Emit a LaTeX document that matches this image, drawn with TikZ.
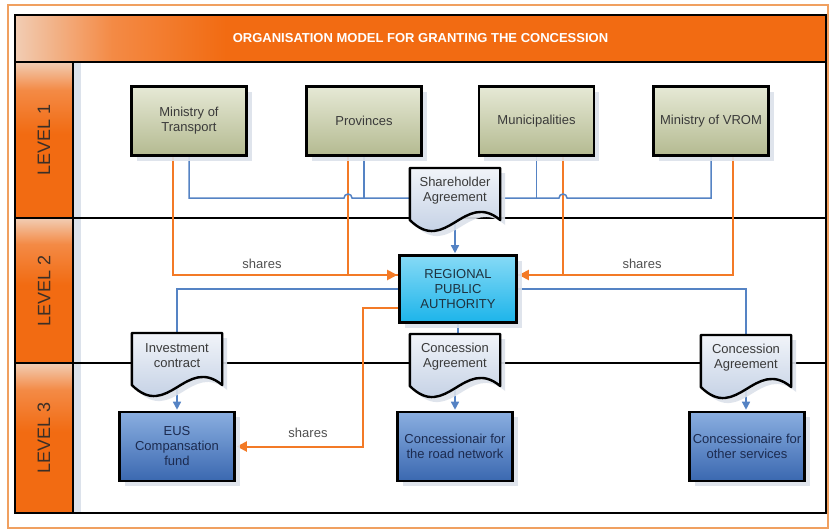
\documentclass[tikz,border=0pt]{standalone}
\usepackage{fontspec}
\setmainfont{Liberation Sans}
\usetikzlibrary{calc,arrows.meta,shadows}

\definecolor{frameorange}{HTML}{F0A060}
\definecolor{barorange}{HTML}{F26B12}
\definecolor{barmid}{HTML}{F38A45}
\definecolor{barlight}{HTML}{F2CDB4}
\definecolor{olivelight}{HTML}{E6E9D5}
\definecolor{olivedark}{HTML}{B4BA91}
\definecolor{cyanlight}{HTML}{86DAF6}
\definecolor{cyanmain}{HTML}{1CB4EA}
\definecolor{bluelight}{HTML}{8AAEE0}
\definecolor{bluedark}{HTML}{3A68B0}
\definecolor{doclight}{HTML}{F1F4F9}
\definecolor{docdark}{HTML}{B5C5DE}
\definecolor{linkblue}{HTML}{5583C4}
\definecolor{linkorange}{HTML}{F37A26}
\definecolor{textgray}{HTML}{3A3A3A}
\definecolor{textdark}{HTML}{1E3340}
\definecolor{textnavy}{HTML}{1C2B50}
\definecolor{labelgray}{HTML}{505050}
\definecolor{leveltext}{HTML}{3B2F27}
\definecolor{shadowgray}{HTML}{DCE2EB}

% orange bars: pale edge that quickly turns into full orange
% (the path spans 25bp..75bp of an axis shading)
\pgfdeclarehorizontalshading{titlefade}{100bp}{color(0bp)=(barlight); color(25bp)=(barlight);
  color(31bp)=(barmid); color(38bp)=(barorange); color(100bp)=(barorange)}
\pgfdeclareverticalshading{lanefade}{100bp}{color(0bp)=(barorange); color(52bp)=(barorange);
  color(66bp)=(barmid); color(75bp)=(barlight); color(100bp)=(barlight)}

\pgfdeclarelayer{lanes}
\pgfdeclarelayer{links}
\pgfdeclarelayer{docs}
\pgfsetlayers{lanes,links,docs,main}

\tikzset{
  txt/.style={font=\fontsize{13}{15}\selectfont, align=center},
  shadowed/.style={drop shadow={shadow xshift=5pt,shadow yshift=-5pt,fill=shadowgray,opacity=0.9}},
  box/.style={txt, shadowed, draw=black, line width=2.6pt, minimum width=115pt,
    minimum height=69pt, inner sep=2pt},
  govbox/.style={box, top color=olivelight, bottom color=olivedark, text=textgray},
  authbox/.style={box, top color=cyanlight, bottom color=cyanmain, text=textdark,
    minimum width=117pt, minimum height=67pt},
  opbox/.style={box, top color=bluelight, bottom color=bluedark, text=textnavy},
  doctext/.style={txt, text=textgray, minimum width=90pt, minimum height=44pt,
    inner sep=0pt, anchor=north},
  docshape/.style={draw=black, line width=2.4pt, line join=round,
    top color=doclight, bottom color=docdark, shadowed},
  bline/.style={draw=linkblue, line width=1.5pt},
  oline/.style={draw=linkorange, line width=2pt},
  btip/.style={-{Triangle[length=8pt,width=8pt]}, shorten >=1pt},
  otip/.style={-{Triangle[length=10pt,width=10pt]}, shorten >=1pt},
  lanehead/.style={rotate=90, draw=black, line width=2.6pt, minimum height=58pt,
    shade, shading=lanefade, shading angle=0,
    text=leveltext, font=\fontsize{18}{20}\selectfont},
  titlebar/.style={draw=black, line width=2.6pt, minimum width=811pt, minimum height=47pt,
    shade, shading=titlefade,
    text=white, font=\bfseries\fontsize{13}{15}\selectfont},
  share/.style={font=\fontsize{13}{15}\selectfont, text=labelgray},
}

% document symbol: flat top, wavy bottom, drawn under the text node #1
\newcommand\docframe[1]{%
  \begin{pgfonlayer}{docs}
    \path[docshape] let \p1=(#1.north west), \p2=(#1.north east), \n1={\x2-\x1} in
      (\p1) -- (\p2) -- (\x2,\y1-52pt)
      .. controls (\x1+0.6*\n1,\y1-22pt) and (\x1+0.4*\n1,\y1-88pt) .. (\x1,\y1-52pt)
      -- cycle;
  \end{pgfonlayer}}

\begin{document}
\begin{tikzpicture}[x=1pt,y=1pt]
\useasboundingbox (0,0) rectangle (829,-530);

% page, outer frame and lane separators
\begin{pgfonlayer}{lanes}
  \fill[white] (0,0) rectangle (829,-530);
  \draw[frameorange, line width=1.3pt] (8,-5) rectangle (828,-528);
  \fill[shadowgray] (73,-62) rectangle (81,-513);
  \draw[line width=2.6pt] (15,-218) -- (826,-218);
  \draw[line width=2.6pt] (15,-363) -- (826,-363);
\end{pgfonlayer}

% heading and lane headers
\node[titlebar] (title) at (420.5,-38.5) {ORGANISATION MODEL FOR GRANTING THE CONCESSION};
\node[lanehead, minimum width=156pt] (lv1) at (44,-140) {LEVEL 1};
\node[lanehead, minimum width=145pt] (lv2) at (44,-290.5) {LEVEL 2};
\node[lanehead, minimum width=150pt] (lv3) at (44,-438) {LEVEL 3};

% level 1: shareholders
\node[govbox] (mot)  at (189,-121)   {Ministry of\\Transport};
\node[govbox] (prov) at (364,-121)   {Provinces};
\node[govbox] (mun)  at (536.5,-121) {Municipalities};
\node[govbox] (vrom) at (711,-121)   {Ministry of VROM};
\node[doctext] (sh) at (455,-168) {Shareholder\\Agreement};
\docframe{sh}

% level 2: authority
\node[authbox] (rpa) at (458,-289) {REGIONAL\\PUBLIC\\AUTHORITY};

% level 3: contracts and operators
\node[doctext] (inv) at (177,-333) {Investment\\contract};
\docframe{inv}
\node[doctext] (ca1) at (455,-334) {Concession\\Agreement};
\docframe{ca1}
\node[doctext] (ca2) at (746,-335) {Concession\\Agreement};
\docframe{ca2}
\node[opbox] (eus)  at (177,-446.5) {EUS\\Compansation\\fund};
\node[opbox] (road) at (455,-446.5) {Concessionair for\\the road network};
\node[opbox] (oth)  at (747,-446.5) {Concessionaire for\\other services};

% labels on the share flows
\node[share] (shL) at (262,-264) {shares};
\node[share] (shR) at (642,-264) {shares};
\node[share] (shE) at (308,-433) {shares};

\coordinate (hopA) at (344,-198);
\coordinate (hopB) at (567,-198);
\coordinate (bendE) at (363,-446.5);

\begin{pgfonlayer}{links}
  % shares flowing to the authority
  \draw[oline, otip] ([xshift=-16pt]mot.south) |- ([yshift=14pt]rpa.west);
  \draw[oline] ([xshift=-16pt]prov.south) |- ([yshift=14pt]rpa.west);
  \draw[oline, otip] ([xshift=22pt]vrom.south) |- ([yshift=14pt]rpa.east);
  \draw[oline] ([xshift=26pt]mun.south) |- ([yshift=14pt]rpa.east);
  \draw[oline, otip] ([yshift=-19pt]rpa.west) -| (bendE) -- (eus.east);

  % shareholder agreement
  \draw[bline] (mot.south) |- (hopA) arc[start angle=180, end angle=0, radius=4pt]
    -- (sh.west |- hopA);
  \draw[bline] (prov.south) -- (prov.south |- hopA);
  \draw[bline] (vrom.south) |- (hopB) arc[start angle=0, end angle=180, radius=4pt]
    -- (sh.east |- hopB);
  \draw[bline] (mun.south) -- (mun.south |- hopB);
  \draw[bline, btip] (sh.south) -- (sh.south |- rpa.north);

  % contracts issued by the authority
  \draw[bline] (rpa.west) -| (inv.north);
  \draw[bline] (rpa.south) -- (rpa.south |- ca1.north);
  \draw[bline] (rpa.east) -| (ca2.north);
  \draw[bline, btip] (inv.south) -- (inv.south |- eus.north);
  \draw[bline, btip] (ca1.south) -- (ca1.south |- road.north);
  \draw[bline, btip] (ca2.south) -- (ca2.south |- oth.north);
\end{pgfonlayer}

% black frame on top
\draw[line width=2.6pt] (15,-15) rectangle (826,-513);
\end{tikzpicture}
\end{document}
